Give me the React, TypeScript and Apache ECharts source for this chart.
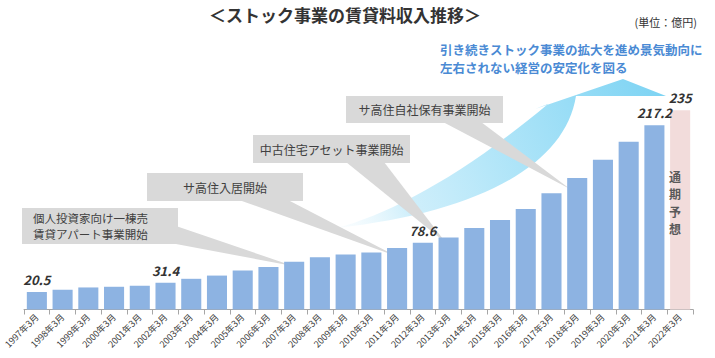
import React, { useEffect, useRef } from "react";
import * as echarts from "echarts";

const categories = [
  "1997年3月", "1998年3月", "1999年3月", "2000年3月", "2001年3月", "2002年3月",
  "2003年3月", "2004年3月", "2005年3月", "2006年3月", "2007年3月", "2008年3月",
  "2009年3月", "2010年3月", "2011年3月", "2012年3月", "2013年3月", "2014年3月",
  "2015年3月", "2016年3月", "2017年3月", "2018年3月", "2019年3月", "2020年3月",
  "2021年3月", "2022年3月",
];
const actualValues = [
  20.5, 23.3, 26.0, 26.8, 28.0, 31.4, 36.2, 40.0, 46.0, 50.0, 56.2, 61.5, 64.8,
  67.2, 72.5, 78.6, 84.8, 96.2, 105.6, 118.6, 137.0, 155.0, 176.6, 197.8, 217.2,
];
const forecastValue = 235;
const labelledIndices = [0, 5, 15, 24];

const titleText = "＜ストック事業の賃貸料収入推移＞";
const unitText = "(単位：億円)";
const messageLines = ["引き続きストック事業の拡大を進め景気動向に", "左右されない経営の安定化を図る"];
const forecastChars = ["通", "期", "予", "想"];
const callouts = [
  { lines: ["個人投資家向け一棟売", "賃貸アパート事業開始"] },
  { lines: ["サ高住入居開始"] },
  { lines: ["中古住宅アセット事業開始"] },
  { lines: ["サ高住自社保有事業開始"] },
];

const ARROW_D =
  "M337 228 C390 214 462 176 548 104 L535 109 L623 79 L666 96 L576 96 C565 165 480 212 337 228 Z";
echarts.graphic.registerShape("bigArrow", echarts.graphic.extendPath(ARROW_D, {}) as any);

const FONT = "'Noto Sans CJK JP', 'Noto Sans', sans-serif";

export default function App() {
  const ref = useRef<HTMLDivElement>(null);
  useEffect(() => {
    if (!ref.current) return;
    const chart = echarts.init(ref.current, undefined, { renderer: "svg" });

    const barData: any[] = actualValues.map((v, i) => ({
      value: v,
      label: { show: labelledIndices.includes(i) },
    }));
    barData.push({
      value: forecastValue,
      label: { show: true },
      itemStyle: { color: "#f2dcdb" },
    });

    const boxes = [
      { x: 22, y: 208, w: 156, h: 36, poly: [[176, 226], [293, 266], [176, 244]], align: "left" },
      { x: 147, y: 173, w: 156, h: 28, poly: [[239, 200], [288, 200], [396, 256]], align: "center" },
      { x: 253, y: 135, w: 157, h: 28, poly: [[346, 162], [384, 162], [446, 243]], align: "center" },
      { x: 346, y: 96, w: 157, h: 27, poly: [[443, 122], [481, 122], [570, 189]], align: "center" },
    ];

    const calloutGraphics: any[] = [];
    boxes.forEach((b, i) => {
      calloutGraphics.push({
        type: "polygon",
        z: 3,
        shape: { points: b.poly },
        style: { fill: "#d9d9d9" },
      });
      calloutGraphics.push({
        type: "rect",
        z: 3,
        shape: { x: b.x, y: b.y, width: b.w, height: b.h },
        style: { fill: "#d9d9d9" },
      });
      const lines = callouts[i].lines;
      const fs = lines.length > 1 ? 11.5 : 12;
      const lh = 16.8;
      lines.forEach((ln, j) => {
        calloutGraphics.push({
          type: "text",
          z: 4,
          x: b.align === "left" ? b.x + 11 : b.x + b.w / 2,
          y: b.y + b.h / 2 + (j - (lines.length - 1) / 2) * lh,
          style: {
            text: ln,
            fill: "#404040",
            font: `${fs}px ${FONT}`,
            align: b.align,
            verticalAlign: "middle",
          },
        });
      });
    });

    const forecastGraphics = forecastChars.map((c, i) => ({
      type: "text",
      z: 10,
      x: 675,
      y: 176 + i * 17.5,
      style: {
        text: c,
        fill: "#595959",
        font: `bold 12px ${FONT}`,
        align: "center",
        verticalAlign: "middle",
      },
    }));

    const messageGraphics = messageLines.map((ln, i) => ({
      type: "text",
      x: 440,
      y: 49 + i * 18.2,
      style: {
        text: ln,
        fill: "#4a8ad4",
        font: `bold 12.5px ${FONT}`,
        align: "left",
        verticalAlign: "middle",
      },
    }));

    chart.setOption({
      animation: false,
      grid: { left: 24, right: 22, top: 97.5, bottom: 48.5 },
      xAxis: {
        type: "category",
        data: categories,
        axisLine: { lineStyle: { color: "#a6a6a6" } },
        axisTick: { show: true, alignWithLabel: false, lineStyle: { color: "#a6a6a6" } },
        axisLabel: {
          interval: 0,
          rotate: 45,
          fontSize: 9,
          color: "#404040",
          fontFamily: FONT,
          margin: 6,
        },
      },
      yAxis: { type: "value", min: 0, max: 250, show: false, splitLine: { show: false } },
      series: [
        {
          type: "bar",
          data: barData,
          barCategoryGap: "22%",
          itemStyle: { color: "#8db3e2" },
          z: 5,
          label: {
            position: "top",
            distance: 6,
            fontSize: 13,
            fontStyle: "italic",
            fontWeight: "bold",
            color: "#333333",
            fontFamily: FONT,
          },
        },
      ],
      graphic: [
        {
          type: "bigArrow",
          z: 1,
          x: 0,
          y: 0,
          style: {
            fill: new echarts.graphic.LinearGradient(
              337, 228, 666, 85,
              [
                { offset: 0, color: "rgba(230,246,253,0.15)" },
                { offset: 0.2, color: "rgba(196,235,250,0.8)" },
                { offset: 0.45, color: "#b6e7f9" },
                { offset: 1, color: "#7cd3f3" },
              ],
              true
            ),
          },
        },
        {
          type: "text",
          x: 345,
          y: 14,
          style: {
            text: titleText,
            fill: "#333333",
            font: `bold 17px ${FONT}`,
            align: "center",
            verticalAlign: "middle",
          },
        },
        {
          type: "text",
          x: 697,
          y: 22,
          style: {
            text: unitText,
            fill: "#333333",
            font: `11px ${FONT}`,
            align: "right",
            verticalAlign: "middle",
          },
        },
        ...messageGraphics,
        ...forecastGraphics,
        ...calloutGraphics,
      ],
    });
    return () => chart.dispose();
  }, []);
  return <div ref={ref} style={{ width: 715, height: 358, position: "absolute", left: 0, top: 0 }} />;
}
